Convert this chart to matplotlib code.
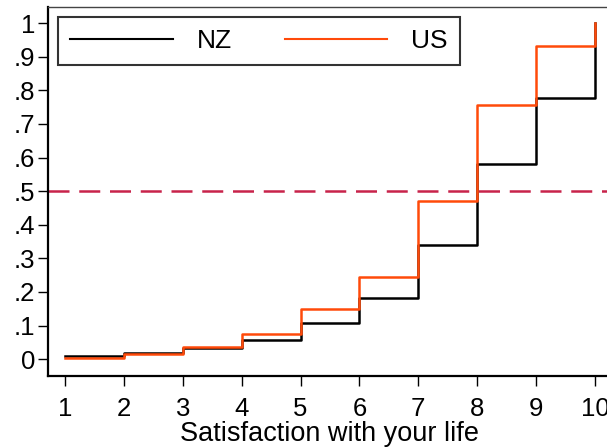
import numpy as np
import matplotlib.pyplot as plt

plt.rcParams['font.family'] = ['Liberation Sans', 'DejaVu Sans']

# cumulative share at each satisfaction level
levels = [1, 2, 3, 4, 5, 6, 7, 8, 9, 10]
nz_cum = [0.009, 0.019, 0.033, 0.057, 0.109, 0.182, 0.341, 0.582, 0.778, 1.0]
us_cum = [0.005, 0.015, 0.035, 0.074, 0.148, 0.244, 0.472, 0.755, 0.931, 1.0]
median_line = 0.5
yticks = [0, .1, .2, .3, .4, .5, .6, .7, .8, .9, 1]
ytick_labels = ['0', '.1', '.2', '.3', '.4', '.5', '.6', '.7', '.8', '.9', '1']

fig = plt.figure(figsize=(6.07, 4.48), dpi=100)
ax = fig.add_axes([48/607, 1-376/448, 564/607, 369/448])

ax.step(levels, nz_cum, where='post', color='black', lw=1.8, label='NZ')
ax.step(levels, us_cum, where='post', color='#ff4a0a', lw=1.8, label='US')
ax.axhline(median_line, color='#c8234a', lw=1.8, dashes=(8.4, 3.9))

ax.set_xlim(0.71, 10.29)
ax.set_ylim(-0.05, 1.048)
ax.set_xticks(levels)
ax.set_yticks(yticks)
ax.set_yticklabels(ytick_labels)
ax.tick_params(labelsize=18.5, length=7, width=1)
ax.tick_params(axis='x', pad=8)
ax.tick_params(axis='y', pad=2)
ax.set_xlabel('Satisfaction with your life', fontsize=19.5, labelpad=0)

for s in ['left', 'bottom']:
    ax.spines[s].set_linewidth(1.6)
ax.spines['top'].set_linewidth(1.0)
ax.spines['top'].set_color('#444444')
ax.spines['right'].set_visible(False)

leg = ax.legend(ncol=2, loc='upper left', bbox_to_anchor=(58/607, 1-17/448),
                bbox_transform=fig.transFigure, borderaxespad=0, fontsize=19,
                frameon=True, fancybox=False, edgecolor='black',
                handlelength=3.9, handletextpad=0.9, columnspacing=2.0,
                borderpad=0.45)
leg.get_frame().set_linewidth(1.5)
for line in leg.get_lines():
    line.set_linewidth(1.5)

plt.savefig('out.png', dpi=100)
